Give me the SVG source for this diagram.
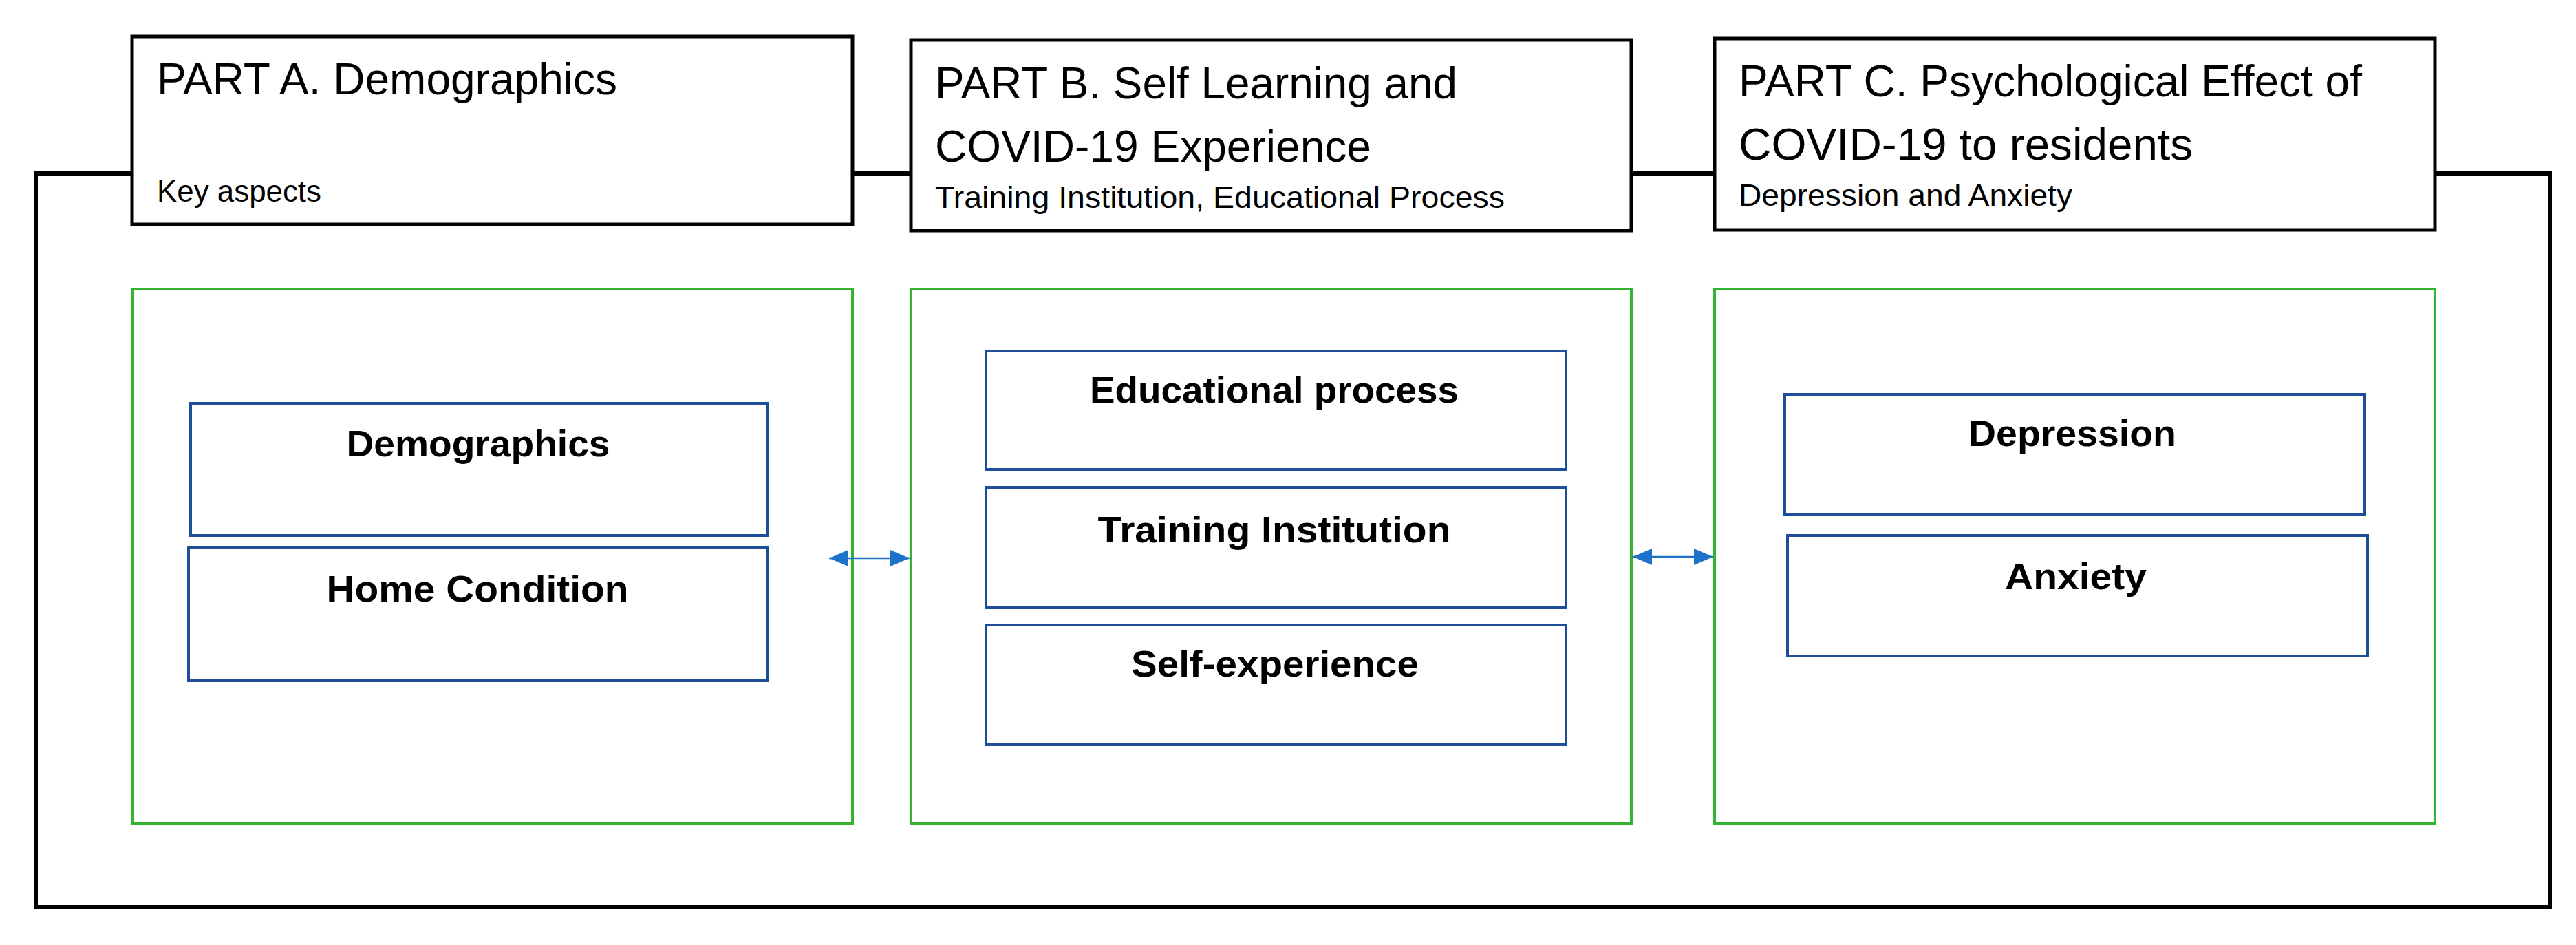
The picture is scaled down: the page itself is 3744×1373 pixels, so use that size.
<svg xmlns="http://www.w3.org/2000/svg" width="3744" height="1373" viewBox="0 0 3744 1373">
<style>
.hdr{fill:#fff;stroke:#000;stroke-width:5}
.grn{fill:none;stroke:#33b233;stroke-width:4}
.blu{fill:#fff;stroke:#1f4e99;stroke-width:4}
.t1{font-family:"Liberation Sans",Arial,sans-serif;font-size:64px;fill:#000}
.t2{font-family:"Liberation Sans",Arial,sans-serif;font-size:44px;fill:#000}
.tb{font-family:"Liberation Sans",Arial,sans-serif;font-size:54px;font-weight:bold;fill:#000;text-anchor:middle}
.conn{stroke:#1e73c8;stroke-width:2.5;fill:none;marker-start:url(#a);marker-end:url(#a)}
</style>
<defs>
<marker id="a" viewBox="0 0 10 10" refX="10" refY="5" markerWidth="10" markerHeight="10" markerUnits="userSpaceOnUse" orient="auto-start-reverse">
<path d="M0,0 L10,5 L0,10 z" fill="#1e73c8" transform="scale(1)"/>
</marker>
</defs>
<rect width="3744" height="1373" fill="#fff"/>
<g id="frame"><rect x="52" y="252" width="3654" height="1066" fill="none" stroke="#000" stroke-width="6"/></g>
<g id="partA">
<rect class="hdr" x="192" y="53" width="1047" height="273"/>
<text class="t1" x="228" y="137" textLength="669" lengthAdjust="spacingAndGlyphs">PART A. Demographics</text>
<text class="t2" x="228" y="293" textLength="239" lengthAdjust="spacingAndGlyphs">Key aspects</text>
<rect class="grn" x="193" y="420" width="1046" height="776"/>
</g>
<g id="partB">
<rect class="hdr" x="1324" y="58" width="1047" height="277"/>
<text class="t1" x="1359" y="143" textLength="759" lengthAdjust="spacingAndGlyphs">PART B. Self Learning and</text>
<text class="t1" x="1359" y="235" textLength="634" lengthAdjust="spacingAndGlyphs">COVID-19 Experience</text>
<text class="t2" x="1359" y="302" textLength="828" lengthAdjust="spacingAndGlyphs">Training Institution, Educational Process</text>
<rect class="grn" x="1324" y="420" width="1047" height="776"/>
</g>
<g id="partC">
<rect class="hdr" x="2492" y="56" width="1047" height="278"/>
<text class="t1" x="2527" y="140" textLength="906" lengthAdjust="spacingAndGlyphs">PART C. Psychological Effect of</text>
<text class="t1" x="2527" y="232" textLength="660" lengthAdjust="spacingAndGlyphs">COVID-19 to residents</text>
<text class="t2" x="2527" y="299" textLength="485" lengthAdjust="spacingAndGlyphs">Depression and Anxiety</text>
<rect class="grn" x="2492" y="420" width="1047" height="776"/>
</g>
<g id="demographics"><rect class="blu" x="277" y="586" width="839" height="192"/><text class="tb" x="695" y="663" textLength="383" lengthAdjust="spacingAndGlyphs">Demographics</text></g>
<g id="home"><rect class="blu" x="274" y="796" width="842" height="193"/><text class="tb" x="694" y="874" textLength="439" lengthAdjust="spacingAndGlyphs">Home Condition</text></g>
<g id="edu"><rect class="blu" x="1433" y="510" width="843" height="172"/><text class="tb" x="1852" y="585" textLength="536" lengthAdjust="spacingAndGlyphs">Educational process</text></g>
<g id="training"><rect class="blu" x="1433" y="708" width="843" height="175"/><text class="tb" x="1852" y="788" textLength="513" lengthAdjust="spacingAndGlyphs">Training Institution</text></g>
<g id="self"><rect class="blu" x="1433" y="908" width="843" height="174"/><text class="tb" x="1853" y="983" textLength="418" lengthAdjust="spacingAndGlyphs">Self-experience</text></g>
<g id="depression"><rect class="blu" x="2594" y="573" width="843" height="174"/><text class="tb" x="3012" y="648" textLength="302" lengthAdjust="spacingAndGlyphs">Depression</text></g>
<g id="anxiety"><rect class="blu" x="2598" y="778" width="843" height="175"/><text class="tb" x="3017" y="856" textLength="206" lengthAdjust="spacingAndGlyphs">Anxiety</text></g>
<g id="connectors">
<line class="conn" x1="1205" y1="811" x2="1322" y2="811" style="marker-start:url(#b);marker-end:url(#b)"/>
<line class="conn" x1="2373" y1="809" x2="2490" y2="809" style="marker-start:url(#b);marker-end:url(#b)"/>
</g>
<defs>
<marker id="b" viewBox="0 0 28 24" refX="28" refY="12" markerWidth="28" markerHeight="24" markerUnits="userSpaceOnUse" orient="auto-start-reverse">
<path d="M0,0 L28,12 L0,24 z" fill="#1e73c8"/>
</marker>
</defs>
</svg>
